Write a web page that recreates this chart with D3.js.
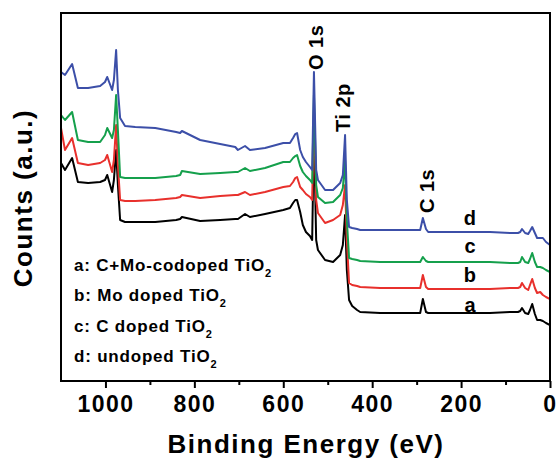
<!DOCTYPE html>
<html>
<head>
<meta charset="utf-8">
<script src="https://cdn.jsdelivr.net/npm/d3@7"></script>
<style>
    body { margin: 0; background: #fff; }
    svg text { font-family: "Liberation Sans", Arial, sans-serif; font-weight: bold; fill: #000; }
</style>
</head>
<body>
<svg width="557" height="458"></svg>
<script>
// binding energy grid (eV), shared by all four spectra
const energy = [1100, 1091, 1075, 1062, 1039, 1012, 1001, 996, 985, 981,
    976, 972, 967, 956, 933, 888, 841, 832, 828, 787,
    742, 708, 702, 686, 675, 641, 600, 585, 578, 573,
    569, 562, 556, 549, 540, 535, 531, 526, 522, 506,
    488, 472, 466, 461, 457, 452, 445, 434, 427, 382,
    337, 292, 286, 279, 274, 202, 135, 90, 72, 67,
    63, 56, 49, 45, 40, 34, 29, 22, 16, 9, 0];

// counts (a.u.), offset spectra
const countsA = [217, 210, 222, 198, 197, 198, 200, 205, 188, 200,
    230, 195, 160, 158, 158, 158, 160, 161, 163, 159,
    160, 161, 161, 166, 163, 166, 170, 172, 177, 180,
    180, 168, 155, 148, 144, 140, 250, 140, 130, 120,
    118, 125, 135, 165, 110, 80, 74, 70, 68, 67,
    67, 67, 81, 68, 67, 67, 67, 68, 68, 69,
    72, 67, 66, 70, 76, 66, 60, 60, 59, 57, 55];
const countsB = [252, 230, 242, 217, 215, 217, 220, 225, 208, 220,
    255, 215, 180, 179, 179, 180, 182, 183, 185, 182,
    184, 185, 185, 188, 185, 188, 193, 194, 198, 202,
    203, 193, 190, 186, 183, 180, 270, 180, 167, 157,
    160, 165, 175, 195, 140, 97, 95, 94, 93, 92,
    92, 92, 105, 93, 91, 91, 91, 92, 92, 93,
    97, 92, 90, 95, 101, 92, 87, 88, 85, 83, 81];
const countsC = [265, 260, 268, 240, 238, 238, 245, 252, 242, 250,
    285, 250, 203, 202, 202, 202, 204, 205, 209, 206,
    207, 208, 208, 212, 209, 212, 218, 218, 222, 224,
    225, 214, 208, 204, 200, 197, 285, 195, 183, 177,
    178, 185, 192, 220, 160, 122, 121, 120, 119, 118,
    118, 118, 123, 119, 118, 118, 118, 117, 117, 118,
    123, 118, 117, 121, 127, 118, 113, 113, 112, 110, 108];
const countsD = [308, 305, 316, 292, 292, 294, 298, 303, 290, 300,
    330, 290, 262, 254, 253, 252, 248, 247, 249, 240,
    236, 233, 230, 234, 230, 232, 237, 237, 242, 246,
    247, 230, 223, 218, 213, 210, 308, 210, 200, 190,
    190, 197, 205, 245, 180, 153, 152, 151, 150, 150,
    150, 150, 162, 151, 148, 148, 148, 147, 147, 148,
    151, 147, 146, 149, 153, 147, 142, 142, 142, 138, 135];

const seriesNames = ["a", "b", "c", "d"];
const seriesColors = ["#000000", "#e8302c", "#15a04c", "#3c4fa8"];
const legendLabels = ["a: C+Mo-codoped TiO", "b: Mo doped TiO", "c: C doped TiO", "d: undoped TiO"];
const peakLabels = ["O 1s", "Ti 2p", "C 1s"];
const peakEnergy = [531, 461, 286];
const xTicks = [1000, 800, 600, 400, 200, 0];

const plotLeft = 61, plotRight = 550, plotTop = 13, plotBottom = 381;

let svg = d3.select("svg");

let x = d3.scaleLinear().domain([1100, 0]).range([plotLeft, plotRight]);
let y = d3.scaleLinear().domain([-1, 367]).range([plotBottom, plotTop]);

svg.append("defs").append("clipPath").attr("id", "plot-clip")
    .append("rect")
    .attr("x", plotLeft).attr("y", plotTop)
    .attr("width", plotRight - plotLeft).attr("height", plotBottom - plotTop);

// spectra, drawn a -> d so blue sits on top
let allCounts = [countsA, countsB, countsC, countsD];
let line = d3.line()
    .x((d, i) => x(energy[i]))
    .y(d => y(d));
let group_lines = svg.append("g").attr("clip-path", "url(#plot-clip)");
allCounts.map((c, k) => {
    group_lines.append("path")
        .attr("d", line(c))
        .attr("fill", "none")
        .attr("stroke", seriesColors[k])
        .attr("stroke-width", 2)
        .attr("stroke-linejoin", "round");
});

// frame
svg.append("rect")
    .attr("x", plotLeft).attr("y", plotTop)
    .attr("width", plotRight - plotLeft).attr("height", plotBottom - plotTop)
    .attr("fill", "none")
    .attr("stroke", "#000")
    .attr("stroke-width", 2);

// x axis (major + minor ticks outward)
let xAxis = svg.append("g").attr("transform", `translate(0,${plotBottom})`);
xAxis.append("g").call(d3.axisBottom(x).tickValues(d3.range(100, 1100, 200)).tickSize(4).tickFormat(""));
xAxis.append("g").call(d3.axisBottom(x).tickValues(xTicks).tickSize(7).tickFormat(d3.format("d")));
xAxis.selectAll(".domain").remove();
xAxis.selectAll("line").attr("stroke", "#000").attr("stroke-width", 2);
xAxis.selectAll("text")
    .attr("y", 15)
    .attr("dy", "0.71em")
    .attr("fill", "#000")
    .style("font-size", "23px")
    .style("letter-spacing", "1.5px");

// axis titles
svg.append("text")
    .attr("x", 306).attr("y", 453)
    .attr("text-anchor", "middle")
    .style("font-size", "26px")
    .style("letter-spacing", "1.5px")
    .text("Binding Energy (eV)");

svg.append("text")
    .attr("transform", "translate(32,198) rotate(-90)")
    .attr("text-anchor", "middle")
    .style("font-size", "26px")
    .style("letter-spacing", "1.5px")
    .text("Counts (a.u.)");

// peak labels (rotated)
const peakBase = [70, 132, 213];
const peakShift = [9, 5, 11];
peakLabels.map((p, i) => {
    svg.append("text")
        .attr("transform", `translate(${x(peakEnergy[i]) + peakShift[i]},${peakBase[i]}) rotate(-90)`)
        .style("font-size", "20px")
        .style("letter-spacing", "0.5px")
        .text(p);
});

// curve letters, sitting just above each spectrum near 180 eV
const letterCounts = [countsA[56], countsB[56], countsC[56], countsD[56]];
const letterGap = [1, 7, 9, 7];
seriesNames.map((s, i) => {
    svg.append("text")
        .attr("x", x(180))
        .attr("y", y(letterCounts[i]) - letterGap[i])
        .attr("text-anchor", "middle")
        .style("font-size", "20px")
        .text(s);
});

// sample legend
let group_legend = svg.append("g");
legendLabels.map((l, i) => {
    let t = group_legend.append("text")
        .attr("x", 74)
        .attr("y", 271 + i * 30.3)
        .style("font-size", "17px")
        .style("letter-spacing", "0.8px");
    t.append("tspan").text(l);
    t.append("tspan")
        .attr("dy", 6)
        .style("font-size", "11px")
        .text("2");
});
</script>
</body>
</html>
